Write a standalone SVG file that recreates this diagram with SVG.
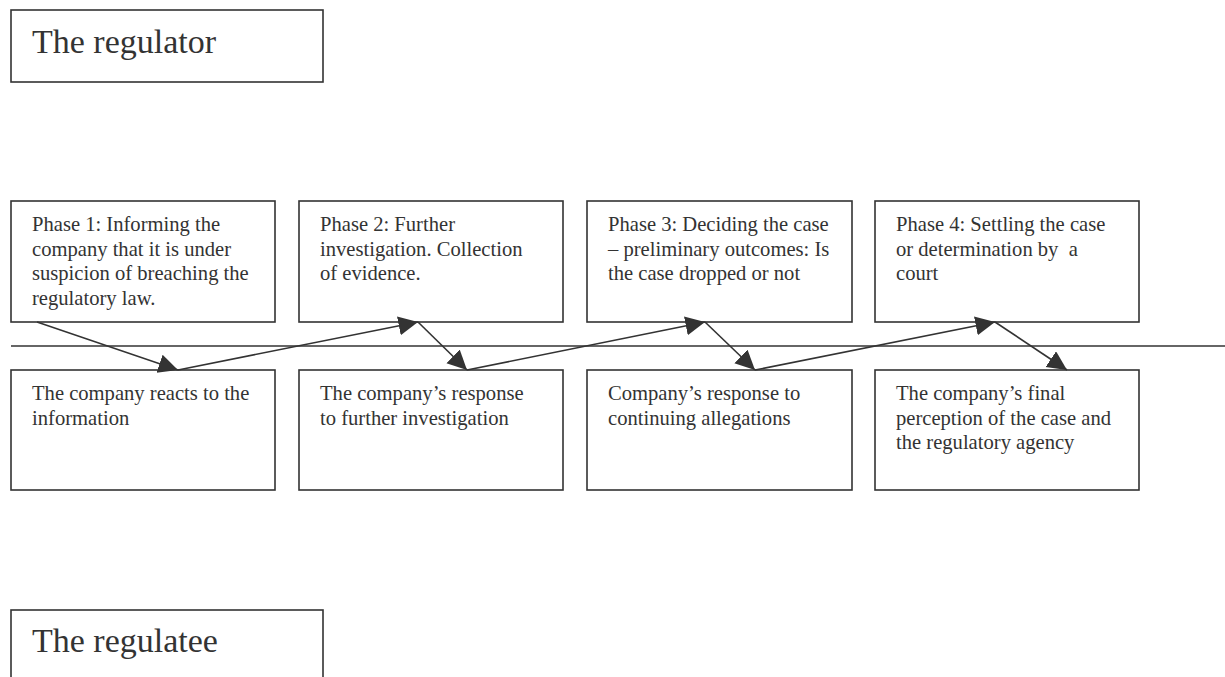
<svg xmlns="http://www.w3.org/2000/svg" width="1225" height="677" viewBox="0 0 1225 677">
<style>
.box{fill:#fff;stroke:#333;stroke-width:1.6}
.t{font-family:"Liberation Serif","Times New Roman",serif;font-size:20.6px;fill:#333}
.big{font-family:"Liberation Serif","Times New Roman",serif;font-size:34px;fill:#333}
.c{stroke:#333;stroke-width:1.6;fill:none;marker-end:url(#ah)}
</style>
<defs>
<marker id="ah" markerUnits="userSpaceOnUse" markerWidth="21" markerHeight="20" refX="19.5" refY="9.5" orient="auto">
<path d="M0,0 L19.5,9.5 L0,19 z" fill="#333"/>
</marker>
</defs>
<rect width="1225" height="677" fill="#fff"/>
<g id="regulator"><rect class="box" x="11" y="10" width="312" height="72"/><text class="big" x="32" y="53">The regulator</text></g>
<g id="regulatee"><rect class="box" x="11" y="610" width="312" height="80"/><text class="big" x="32" y="652">The regulatee</text></g>
<g id="divider"><line x1="11" y1="346" x2="1225" y2="346" stroke="#333" stroke-width="1.6"/></g>
<g id="phase1"><rect class="box" x="11" y="201" width="264" height="121"/><text class="t"><tspan x="32" y="231">Phase 1: Informing the</tspan><tspan x="32" y="255.5">company that it is under</tspan><tspan x="32" y="280">suspicion of breaching the</tspan><tspan x="32" y="304.5">regulatory law.</tspan></text></g>
<g id="phase2"><rect class="box" x="299" y="201" width="264" height="121"/><text class="t"><tspan x="320" y="231">Phase 2: Further</tspan><tspan x="320" y="255.5">investigation. Collection</tspan><tspan x="320" y="280">of evidence.</tspan></text></g>
<g id="phase3"><rect class="box" x="587" y="201" width="265" height="121"/><text class="t"><tspan x="608" y="231">Phase 3: Deciding the case</tspan><tspan x="608" y="255.5">– preliminary outcomes: Is</tspan><tspan x="608" y="280">the case dropped or not</tspan></text></g>
<g id="phase4"><rect class="box" x="875" y="201" width="264" height="121"/><text class="t"><tspan x="896" y="231">Phase 4: Settling the case</tspan><tspan x="896" y="255.5">or determination by&#160; a</tspan><tspan x="896" y="280">court</tspan></text></g>
<g id="resp1"><rect class="box" x="11" y="370" width="264" height="120"/><text class="t"><tspan x="32" y="400">The company reacts to the</tspan><tspan x="32" y="424.5">information</tspan></text></g>
<g id="resp2"><rect class="box" x="299" y="370" width="264" height="120"/><text class="t"><tspan x="320" y="400">The company’s response</tspan><tspan x="320" y="424.5">to further investigation</tspan></text></g>
<g id="resp3"><rect class="box" x="587" y="370" width="265" height="120"/><text class="t"><tspan x="608" y="400">Company’s response to</tspan><tspan x="608" y="424.5">continuing allegations</tspan></text></g>
<g id="resp4"><rect class="box" x="875" y="370" width="264" height="120"/><text class="t"><tspan x="896" y="400">The company’s final</tspan><tspan x="896" y="424.5">perception of the case and</tspan><tspan x="896" y="449">the regulatory agency</tspan></text></g>
<g id="connectors">
<line class="c" x1="37" y1="322" x2="178" y2="370"/>
<line class="c" x1="178" y1="370" x2="418" y2="322"/>
<line class="c" x1="418" y1="322" x2="467" y2="370"/>
<line class="c" x1="467" y1="370" x2="705" y2="322"/>
<line class="c" x1="705" y1="322" x2="755" y2="370"/>
<line class="c" x1="755" y1="370" x2="995" y2="322"/>
<line class="c" x1="995" y1="322" x2="1067" y2="370"/>
</g>
</svg>
